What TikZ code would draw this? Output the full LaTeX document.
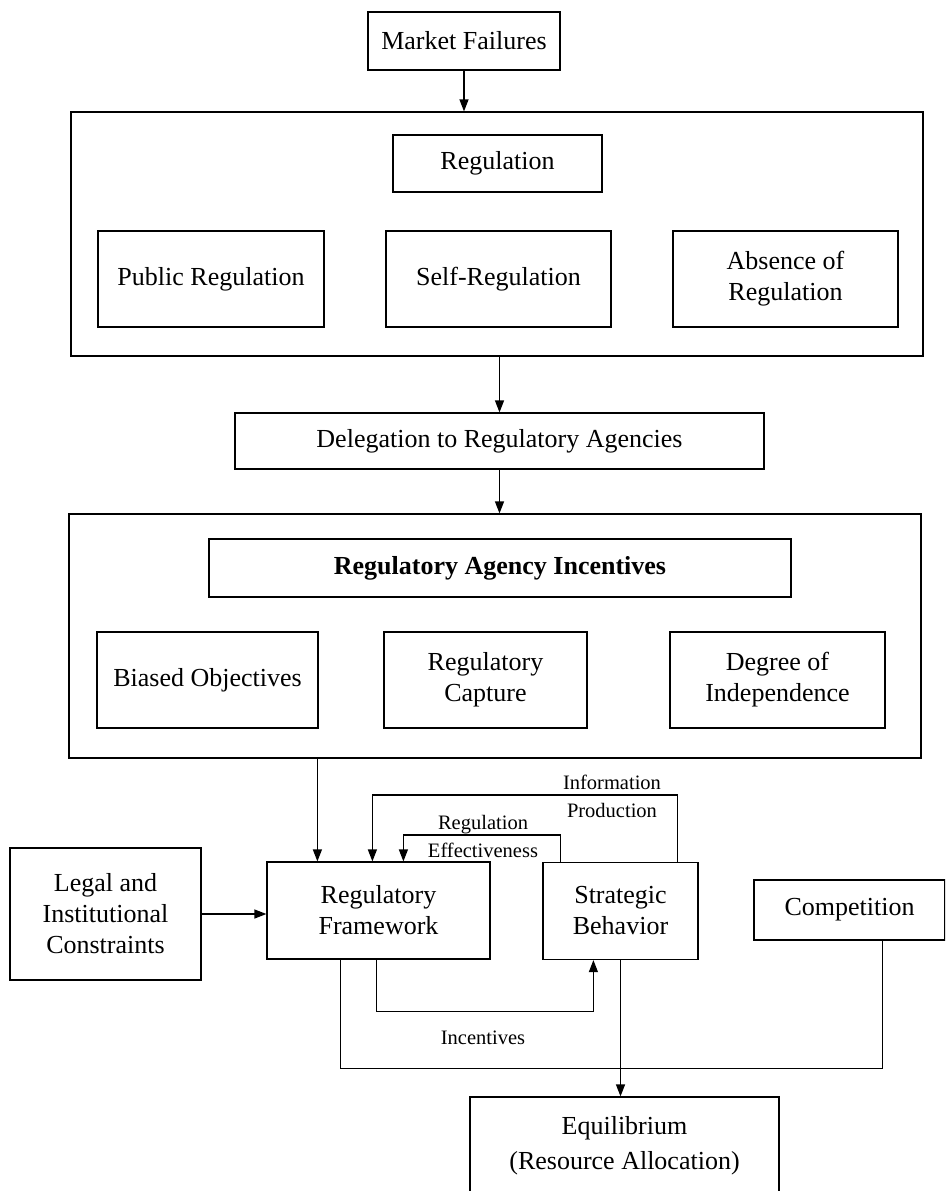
\documentclass[tikz,border=0pt]{standalone}
\usepackage{fontspec}
\setmainfont{Liberation Serif}
\usetikzlibrary{arrows.meta}
\tikzset{
  box/.style={draw,rectangle,inner sep=0pt,align=center,font=\fontsize{26}{31}\selectfont},
  lbl/.style={inner sep=0pt,align=center,font=\fontsize{20.5}{28}\selectfont},
  arr/.style={-{Triangle[length=12pt,width=9pt]}}
}
\begin{document}
\begin{tikzpicture}[x=1pt,y=-1pt,line width=1.2pt]
  \useasboundingbox (0,0) rectangle (945,1191);
  \clip (0,0) rectangle (945,1191);
  \node[box,minimum width=192pt,minimum height=58pt] (market) at (464,41) {Market Failures};
  \node[box,minimum width=852pt,minimum height=244pt] (outerA) at (497,234) {};
  \node[box,minimum width=209pt,minimum height=57pt] (regulation) at (497.5,163.5) {Regulation};
  \node[box,minimum width=226pt,minimum height=96pt] (public) at (211,279) {Public Regulation};
  \node[box,minimum width=225pt,minimum height=96pt] (self) at (498.5,279) {Self-Regulation};
  \node[box,minimum width=225pt,minimum height=96pt] (absence) at (785.5,279) {Absence of\\Regulation};
  \node[box,minimum width=529pt,minimum height=56pt] (deleg) at (499.5,441) {Delegation to Regulatory Agencies};
  \node[box,minimum width=852pt,minimum height=244pt] (outerB) at (495,636) {};
  \node[box,minimum width=582pt,minimum height=58pt] (incent) at (500,568) {\bfseries Regulatory Agency Incentives};
  \node[box,minimum width=221pt,minimum height=96pt] (biased) at (207.5,680) {Biased Objectives};
  \node[box,minimum width=203pt,minimum height=96pt] (capture) at (485.5,680) {Regulatory\\Capture};
  \node[box,minimum width=215pt,minimum height=96pt] (indep) at (777.5,680) {Degree of\\Independence};
  \node[box,minimum width=191pt,minimum height=132pt] (legal) at (105.5,914) {Legal and\\Institutional\\Constraints};
  \node[box,minimum width=223pt,minimum height=97pt] (framework) at (378.5,910.5) {Regulatory\\Framework};
  \node[box,minimum width=155pt,minimum height=97pt] (strategic) at (620.5,911) {Strategic\\Behavior};
  \node[box,minimum width=191pt,minimum height=60pt] (compet) at (849.5,910) {Competition};
  \node[box,minimum width=309pt,minimum height=98pt,font=\fontsize{26}{35}\selectfont] (equil) at (624.5,1146) {Equilibrium\\(Resource Allocation)};

  \coordinate (fwA) at ([xshift=51pt]framework.north west);
  \coordinate (fwB) at ([xshift=106pt]framework.north west);
  \coordinate (fwC) at ([xshift=137pt]framework.north west);
  \coordinate (fwD) at ([xshift=110pt]framework.south west);
  \coordinate (fwE) at ([xshift=74pt]framework.south west);
  \coordinate (sbA) at ([xshift=18pt]strategic.north west);
  \coordinate (sbB) at ([xshift=135pt]strategic.north west);
  \coordinate (sbC) at ([xshift=51pt]strategic.south west);
  \coordinate (cpA) at ([xshift=129pt]compet.south west);

  \draw[arr] (market.south) -- (market.south |- outerA.north);
  \draw[arr] (deleg.north |- outerA.south) -- (deleg.north);
  \draw[arr] (deleg.south) -- (deleg.south |- outerB.north);
  \draw[arr] (fwA |- outerB.south) -- (fwA);
  \draw[arr] (legal.east) -- (legal.east -| framework.west);
  \draw[arr] (sbB) -- ++(0,-67) -| (fwB);
  \draw[arr] (sbA) -- ++(0,-27) -| (fwC);
  \draw[arr] (fwD) -- ++(0,52) -| (sbC);
  \draw (fwE) -- ++(0,109) -| (cpA);
  \draw[arr] (strategic.south) -- (strategic.south |- equil.north);

  \node[lbl] (infolbl) at (612,796) {Information\\Production};
  \node[lbl] (efflbl) at (483,836) {Regulation\\Effectiveness};
  \node[lbl] (inclbl) at (483,1038) {Incentives};
\end{tikzpicture}
\end{document}
